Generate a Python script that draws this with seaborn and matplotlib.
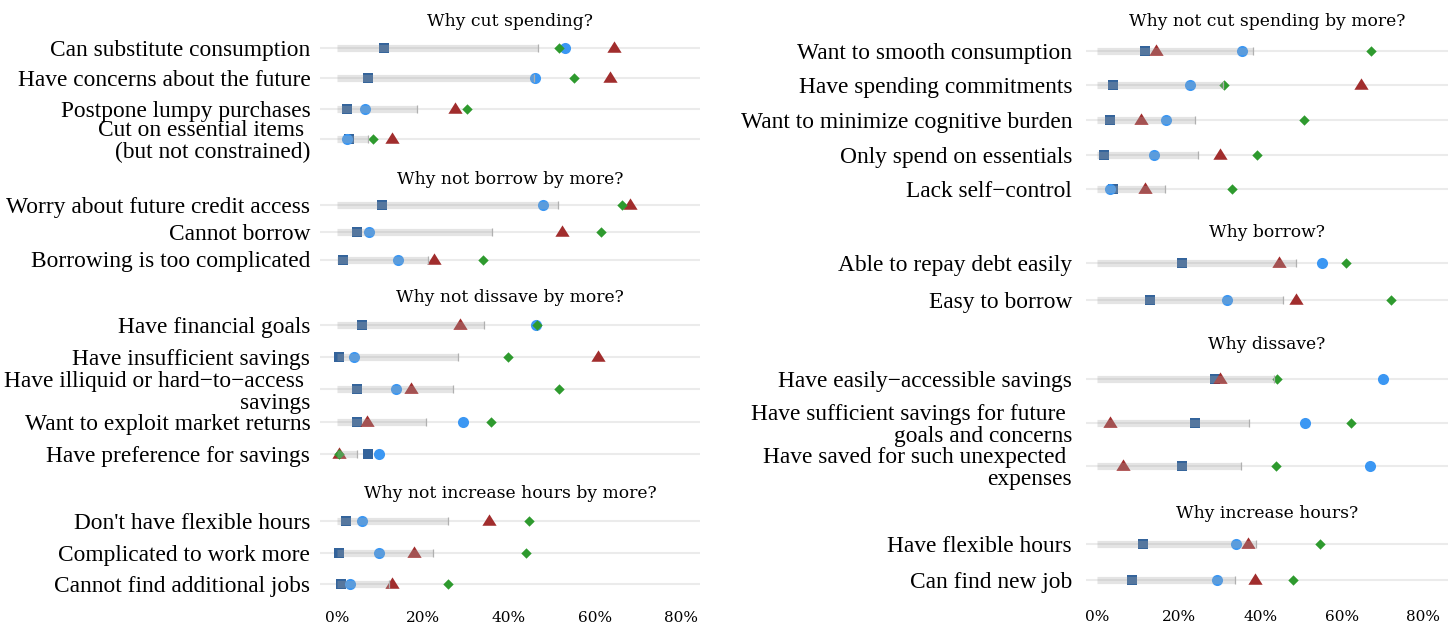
import numpy as np
import pandas as pd
import matplotlib
matplotlib.use("Agg")
import matplotlib.pyplot as plt
import seaborn as sns

# ---------------- data ----------------
left_titles = ["Why cut spending?", "Why not borrow by more?",
               "Why not dissave by more?", "Why not increase hours by more?"]
right_titles = ["Why not cut spending by more?", "Why borrow?",
                "Why dissave?", "Why increase hours?"]

row_panel = ["L"] * 15 + ["R"] * 12
row_facet = ([0] * 4 + [1] * 3 + [2] * 5 + [3] * 3 +
             [0] * 5 + [1] * 2 + [2] * 3 + [3] * 2)
row_label = [
    "Can substitute consumption", "Have concerns about the future",
    "Postpone lumpy purchases", "Cut on essential items \n(but not constrained)",
    "Worry about future credit access", "Cannot borrow", "Borrowing is too complicated",
    "Have financial goals", "Have insufficient savings",
    "Have illiquid or hard\u2212to\u2212access \nsavings", "Want to exploit market returns",
    "Have preference for savings",
    "Don't have flexible hours", "Complicated to work more", "Cannot find additional jobs",
    "Want to smooth consumption", "Have spending commitments",
    "Want to minimize cognitive burden", "Only spend on essentials", "Lack self\u2212control",
    "Able to repay debt easily", "Easy to borrow",
    "Have easily\u2212accessible savings",
    "Have sufficient savings for future \ngoals and concerns",
    "Have saved for such unexpected \nexpenses",
    "Have flexible hours", "Can find new job",
]
bar_end = [46.7, 45.8, 18.6, 7.2,
           51.5, 36.0, 21.1,
           34.1, 28.2, 26.9, 20.8, 4.6,
           25.7, 22.4, 12.1,
           38.3, 30.9, 24.1, 24.7, 16.7,
           48.9, 45.6,
           43.3, 37.4, 35.3,
           39.1, 33.9]
val_square = [10.9, 7.2, 2.4, 2.7,
              10.4, 4.6, 1.5,
              5.7, 0.5, 4.6, 4.7, 7.3,
              2.2, 0.5, 1.0,
              11.7, 3.9, 3.3, 1.7, 3.9,
              20.9, 13.0,
              28.9, 24.1, 20.9,
              11.4, 8.6]
val_circle = [53.0, 46.0, 6.4, 2.3,
              47.8, 7.4, 14.2,
              46.3, 4.0, 13.7, 29.2, 9.8,
              5.9, 9.8, 3.0,
              35.6, 22.8, 16.9, 14.1, 3.1,
              55.3, 31.9,
              70.2, 51.1, 66.9,
              34.2, 29.4]
val_triangle = [64.5, 63.5, 27.4, 12.9,
                68.1, 52.4, 22.6,
                28.6, 60.8, 17.1, 6.9, 0.5,
                35.4, 18.0, 12.9,
                14.4, 64.7, 10.9, 30.2, 11.8,
                44.7, 48.7,
                30.2, 3.3, 6.4,
                37.0, 38.7]
val_diamond = [51.6, 55.0, 30.2, 8.3,
               66.2, 61.4, 34.0,
               46.5, 39.8, 51.6, 35.8, 0.5,
               44.7, 44.0, 25.9,
               67.2, 31.1, 50.8, 39.2, 33.2,
               61.2, 72.2,
               44.2, 62.2, 43.9,
               54.8, 48.1]
x_ticks = [0, 20, 40, 60, 80]
x_tick_labels = ["0%", "20%", "40%", "60%", "80%"]

df = pd.DataFrame({
    "panel": row_panel, "facet": row_facet, "label": row_label,
    "bar": bar_end, "square": val_square, "circle": val_circle,
    "triangle": val_triangle, "diamond": val_diamond,
})

# ---------------- style ----------------
sns.set_style("white")
plt.rcParams["font.family"] = ["Liberation Serif", "DejaVu Serif"]
plt.rcParams["text.color"] = "black"
plt.rcParams["xtick.color"] = "black"
plt.rcParams["ytick.color"] = "black"

W, H = 1456, 628
fig = plt.figure(figsize=(W / 100, H / 100), dpi=100)

layout = {
    "L": dict(x=(320, 700), xlim=(-3.95, 84.4), titles=left_titles, pad=7,
              rows=[(30, 157), (188, 276), (306, 473), (502, 603)]),
    "R": dict(x=(1086, 1448), xlim=(-2.7, 86.1), titles=right_titles, pad=10,
              rows=[(30, 210), (241, 322), (353, 492), (522, 602)]),
}

col_square = "#33639b"
col_circle = "#3b97f3"
col_triangle = "#a12d2d"
col_diamond = "#2e9a2e"
tri_marker = [(-1, -0.6), (1, -0.6), (0, 1.0)]

for pname, spec in layout.items():
    x0, x1 = spec["x"]
    for fi, (top, bot) in enumerate(spec["rows"]):
        ax = fig.add_axes([x0 / W, 1 - bot / H, (x1 - x0) / W, (bot - top) / H])
        d = df[(df.panel == pname) & (df.facet == fi)].reset_index(drop=True)
        d["pos"] = np.arange(len(d))
        n = len(d)
        # markers (under the bar)
        sns.scatterplot(data=d, x="square", y="pos", marker="s", s=62, color=col_square,
                        linewidth=0, ax=ax, zorder=3, legend=False)
        sns.scatterplot(data=d, x="circle", y="pos", marker="o", s=64, color=col_circle,
                        linewidth=0, ax=ax, zorder=3, legend=False)
        sns.scatterplot(data=d, x="triangle", y="pos", marker=tri_marker, s=105,
                        color=col_triangle, linewidth=0, ax=ax, zorder=3, legend=False)
        sns.scatterplot(data=d, x="diamond", y="pos", marker="D", s=28, color=col_diamond,
                        linewidth=0, ax=ax, zorder=3, legend=False)
        # translucent grey bar from 0 to value, drawn on top
        ax.hlines(d["pos"], 0, d["bar"], lw=5.2, color="#a8a8a8", alpha=0.3, zorder=5)
        ax.scatter(d["bar"], d["pos"], marker="|", s=26, color="#b0b0b0",
                   linewidths=0.9, zorder=6)

        ax.set_xlim(*spec["xlim"])
        ax.set_ylim(n - 0.4, -0.6)
        ax.set_yticks(d["pos"])
        ax.set_yticklabels(d["label"], fontsize=16.8, linespacing=1.05)
        ax.tick_params(axis="y", length=0, pad=spec["pad"])
        ax.set_xticks(x_ticks)
        if fi == len(spec["rows"]) - 1:
            ax.set_xticklabels(x_tick_labels, fontsize=11, family="DejaVu Serif")
            ax.tick_params(axis="x", length=0, pad=6)
        else:
            ax.set_xticklabels([])
            ax.tick_params(axis="x", length=0)
        ax.set_xlabel("")
        ax.set_ylabel("")
        ax.grid(False)
        ax.yaxis.grid(True, color="#ebebeb", lw=1.5, zorder=0)
        ax.set_axisbelow(True)
        for sp in ax.spines.values():
            sp.set_visible(False)
        ax.set_title(spec["titles"][fi], fontsize=12.3, family="DejaVu Serif", pad=3,
                     color="black")

fig.savefig("out.png", dpi=100)
